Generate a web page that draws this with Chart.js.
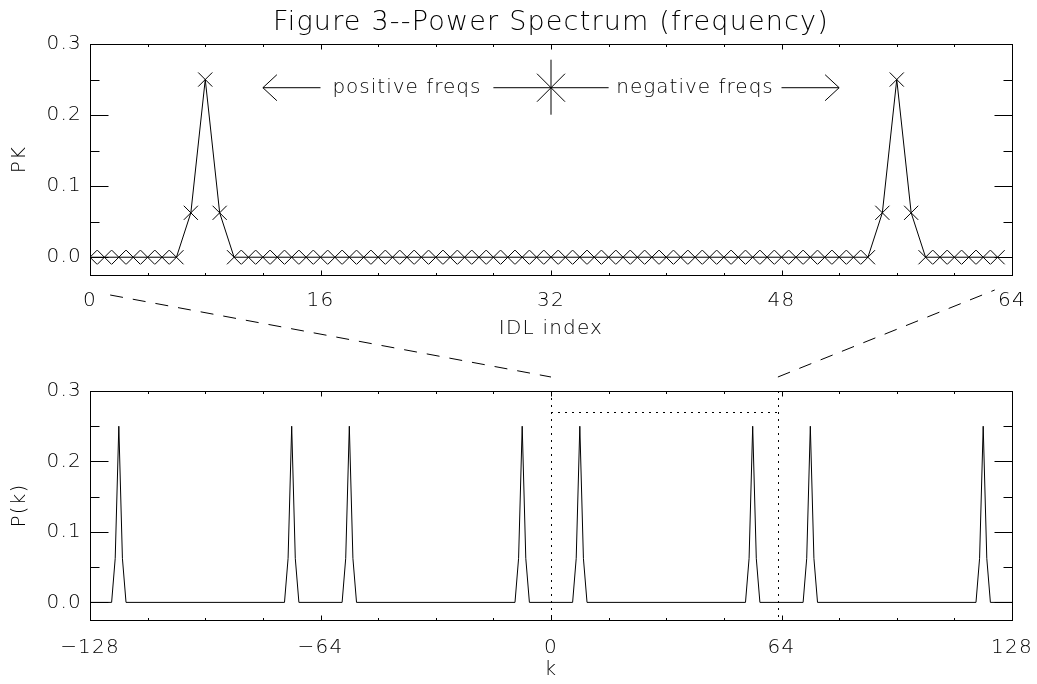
<!DOCTYPE html>
<html>
<head>
<meta charset="utf-8">
<script src="https://cdn.jsdelivr.net/npm/chart.js@4.4.1/dist/chart.umd.min.js"></script>
<style>
body { margin: 0; background: #fff; }
#wrap { position: relative; width: 1037px; height: 684px; }
#topBox { position: absolute; left: 0; top: 0; width: 1037px; height: 345px; }
#botBox { position: absolute; left: 0; top: 280px; width: 1037px; height: 404px; }
</style>
</head>
<body>
<div id="wrap">
  <div id="topBox"><canvas id="topChart"></canvas></div>
  <div id="botBox"><canvas id="botChart"></canvas></div>
</div>
<script>
// top panel: power per IDL index (0..63)
var idlIndex = [0, 1, 2, 3, 4, 5, 6, 7, 8, 9, 10, 11, 12, 13, 14, 15,
    16, 17, 18, 19, 20, 21, 22, 23, 24, 25, 26, 27, 28, 29, 30, 31,
    32, 33, 34, 35, 36, 37, 38, 39, 40, 41, 42, 43, 44, 45, 46, 47,
    48, 49, 50, 51, 52, 53, 54, 55, 56, 57, 58, 59, 60, 61, 62, 63];
var pkValues = [0, 0, 0, 0, 0, 0, 0, 0.0625, 0.25, 0.0625, 0, 0, 0, 0, 0, 0,
    0, 0, 0, 0, 0, 0, 0, 0, 0, 0, 0, 0, 0, 0, 0, 0,
    0, 0, 0, 0, 0, 0, 0, 0, 0, 0, 0, 0, 0, 0, 0, 0,
    0, 0, 0, 0, 0, 0, 0, 0.0625, 0.25, 0.0625, 0, 0, 0, 0, 0, 0];

// bottom panel: P(k) for k = -128..128 (corners of the polyline)
var kValues = [-128, -122, -121, -120, -119, -118, -74, -73, -72, -71, -70,
    -58, -57, -56, -55, -54, -10, -9, -8, -7, -6, 6, 7, 8, 9, 10,
    54, 55, 56, 57, 58, 70, 71, 72, 73, 74, 118, 119, 120, 121, 122, 128];
var pValues = [0, 0, 0.0625, 0.25, 0.0625, 0, 0, 0.0625, 0.25, 0.0625, 0,
    0, 0.0625, 0.25, 0.0625, 0, 0, 0.0625, 0.25, 0.0625, 0, 0, 0.0625, 0.25, 0.0625, 0,
    0, 0.0625, 0.25, 0.0625, 0, 0, 0.0625, 0.25, 0.0625, 0, 0, 0.0625, 0.25, 0.0625, 0, 0];

var topXTicks = [0, 16, 32, 48, 64];
var botXTicks = [-128, -64, 0, 64, 128];
var yTicks = [0.0, 0.1, 0.2, 0.3];
var boxK = [0, 63];
var boxLevel = 0.27;

Chart.defaults.font.family = "'DejaVu Sans', sans-serif";
Chart.defaults.font.size = 20;
Chart.defaults.font.weight = '200';
Chart.defaults.color = '#000';

var spacingPlugin = {
    id: 'spacing',
    beforeUpdate: function(chart) { chart.ctx.letterSpacing = '1.2px'; },
    beforeDraw: function(chart) { chart.ctx.letterSpacing = '1.2px'; }
};

// IDL style box with inward ticks on all four sides
function idlAxesPlugin(xMinorStep) {
    return {
        id: 'idlAxes',
        afterDatasetsDraw: function(chart) {
            var ctx = chart.ctx;
            var a = chart.chartArea;
            var xs = chart.scales.x, ys = chart.scales.y;
            var l = Math.round(a.left) + 0.5, r = Math.round(a.right) + 0.5;
            var t = Math.round(a.top) + 0.5, b = Math.round(a.bottom) + 0.5;
            ctx.save();
            ctx.strokeStyle = '#000';
            ctx.lineWidth = 1;
            ctx.setLineDash([]);
            ctx.strokeRect(l, t, r - l, b - t);
            ctx.beginPath();
            for (var v = xs.min; v <= xs.max + 1e-9; v += xMinorStep) {
                var px = Math.round(xs.getPixelForValue(v)) + 0.5;
                var len = (v - xs.min) % (xMinorStep * 4) === 0 ? 5 : 2.5;
                ctx.moveTo(px, b); ctx.lineTo(px, b - len);
                ctx.moveTo(px, t); ctx.lineTo(px, t + len);
            }
            for (var i = 0; i <= 6; i++) {
                var py = Math.round(ys.getPixelForValue(i * 0.05)) + 0.5;
                var ylen = i % 2 === 0 ? 18 : 9;
                ctx.moveTo(l, py); ctx.lineTo(l + ylen, py);
                ctx.moveTo(r, py); ctx.lineTo(r - ylen, py);
            }
            ctx.stroke();
            ctx.restore();
        }
    };
}

function fixedTicks(list) {
    return function(scale) {
        scale.ticks = list.map(function(v) { return { value: v }; });
    };
}

function fixedHeight(h) {
    return function(s) {
        s.height = h;
        s.paddingLeft = 0;
        s.paddingRight = 0;
    };
}

// arrows and star in the top panel
var freqLabelsPlugin = {
    id: 'freqLabels',
    afterDatasetsDraw: function(chart) {
        var ctx = chart.ctx;
        var xs = chart.scales.x, ys = chart.scales.y;
        var y = ys.getPixelForValue(0.2385);
        var X = function(v) { return xs.getPixelForValue(v); };
        ctx.save();
        ctx.strokeStyle = '#000';
        ctx.lineWidth = 1;
        ctx.beginPath();
        // left arrow
        ctx.moveTo(X(12), y); ctx.lineTo(X(16), y);
        ctx.moveTo(X(12) + 14, y - 13); ctx.lineTo(X(12), y); ctx.lineTo(X(12) + 14, y + 13);
        // star with bar
        ctx.moveTo(X(28), y); ctx.lineTo(X(36), y);
        ctx.moveTo(X(32), y - 28); ctx.lineTo(X(32), y + 27);
        ctx.moveTo(X(32) - 14, y - 14); ctx.lineTo(X(32) + 14, y + 14);
        ctx.moveTo(X(32) - 14, y + 14); ctx.lineTo(X(32) + 14, y - 14);
        // right arrow
        ctx.moveTo(X(48), y); ctx.lineTo(X(52), y);
        ctx.moveTo(X(52) - 14, y - 13); ctx.lineTo(X(52), y); ctx.lineTo(X(52) - 14, y + 13);
        ctx.stroke();
        ctx.fillStyle = '#000';
        ctx.font = "200 20px 'DejaVu Sans', sans-serif";
        ctx.letterSpacing = '1px';
        ctx.textAlign = 'center';
        ctx.textBaseline = 'middle';
        ctx.fillText('positive freqs', X(22), y);
        ctx.fillText('negative freqs', X(42), y);
        ctx.restore();
    }
};

var topChart = new Chart(document.getElementById('topChart'), {
    type: 'line',
    data: {
        datasets: [{
            data: idlIndex.map(function(x, i) { return { x: x, y: pkValues[i] }; }),
            borderColor: '#000',
            borderWidth: 1,
            pointStyle: 'crossRot',
            pointRadius: 10,
            pointBorderColor: '#000',
            pointBorderWidth: 1,
            pointBackgroundColor: 'rgba(0,0,0,0)',
            tension: 0
        }]
    },
    options: {
        responsive: true,
        maintainAspectRatio: false,
        animation: false,
        layout: { padding: { left: 0, right: 25, top: 0, bottom: 0 } },
        plugins: {
            legend: { display: false },
            tooltip: { enabled: false },
            title: {
                display: true,
                fullSize: false,
                text: 'Figure 3--Power Spectrum (frequency)',
                color: '#000',
                font: { size: 27, weight: '200' },
                padding: { top: 7, bottom: 4.6 }
            }
        },
        scales: {
            x: {
                type: 'linear',
                min: 0,
                max: 64,
                afterBuildTicks: fixedTicks(topXTicks),
                afterFit: fixedHeight(70),
                grid: { display: false, drawTicks: false },
                border: { display: false },
                ticks: { padding: 14, maxRotation: 0, autoSkip: false },
                title: { display: true, text: 'IDL index', padding: { top: 0, bottom: 4 } }
            },
            y: {
                min: -0.025,
                max: 0.3,
                afterBuildTicks: fixedTicks(yTicks),
                afterFit: function(s) { s.width = 90; },
                grid: { display: false, drawTicks: false },
                border: { display: false },
                ticks: { padding: 8, callback: function(v) { return v.toFixed(1); } },
                title: { display: true, text: 'PK', padding: { top: 8, bottom: 0 } }
            }
        }
    },
    plugins: [spacingPlugin, idlAxesPlugin(4), freqLabelsPlugin]
});

// zoom box and connector lines in the bottom panel
var boxPlugin = {
    id: 'zoomBox',
    afterDatasetsDraw: function(chart) {
        var ctx = chart.ctx;
        var a = chart.chartArea;
        var xs = chart.scales.x, ys = chart.scales.y;
        ctx.save();
        ctx.strokeStyle = '#000';
        ctx.lineWidth = 1;
        ctx.setLineDash([2, 5]);
        ctx.beginPath();
        boxK.forEach(function(k) {
            var px = Math.round(xs.getPixelForValue(k)) + 0.5;
            ctx.moveTo(px, ys.getPixelForValue(ys.max));
            ctx.lineTo(px, ys.getPixelForValue(ys.min));
        });
        var hy = Math.round(ys.getPixelForValue(boxLevel)) + 0.5;
        ctx.moveTo(xs.getPixelForValue(boxK[0]), hy);
        ctx.lineTo(xs.getPixelForValue(boxK[1]), hy);
        ctx.stroke();

        // dashed connectors up to the top panel's axis
        var offset = 280;
        var tx = topChart.scales.x;
        var tb = topChart.chartArea.bottom - offset;
        ctx.setLineDash([13, 10]);
        ctx.beginPath();
        ctx.moveTo(tx.getPixelForValue(1.4), tb + 20);
        ctx.lineTo(xs.getPixelForValue(boxK[0]), a.top - 14);
        ctx.moveTo(xs.getPixelForValue(boxK[1]), a.top - 14);
        ctx.lineTo(tx.getPixelForValue(62.8), tb + 15);
        ctx.stroke();
        ctx.restore();
    }
};

var botChart = new Chart(document.getElementById('botChart'), {
    type: 'line',
    data: {
        datasets: [{
            data: kValues.map(function(k, i) { return { x: k, y: pValues[i] }; }),
            borderColor: '#000',
            borderWidth: 1,
            pointRadius: 0,
            tension: 0
        }]
    },
    options: {
        responsive: true,
        maintainAspectRatio: false,
        animation: false,
        layout: { padding: { left: 0, right: 25, top: 111, bottom: 0 } },
        plugins: {
            legend: { display: false },
            tooltip: { enabled: false }
        },
        scales: {
            x: {
                type: 'linear',
                min: -128,
                max: 128,
                afterBuildTicks: fixedTicks(botXTicks),
                afterFit: fixedHeight(64),
                grid: { display: false, drawTicks: false },
                border: { display: false },
                ticks: {
                    padding: 16, maxRotation: 0, autoSkip: false,
                    callback: function(v) { return v < 0 ? '\u2212' + Math.abs(v) : String(v); }
                },
                title: { display: true, text: 'k', padding: { top: 0, bottom: 2 } }
            },
            y: {
                min: -0.025,
                max: 0.3,
                afterBuildTicks: fixedTicks(yTicks),
                afterFit: function(s) { s.width = 90; },
                grid: { display: false, drawTicks: false },
                border: { display: false },
                ticks: { padding: 8, callback: function(v) { return v.toFixed(1); } },
                title: { display: true, text: 'P(k)', padding: { top: 8, bottom: 0 } }
            }
        }
    },
    plugins: [spacingPlugin, idlAxesPlugin(16), boxPlugin]
});
</script>
</body>
</html>
